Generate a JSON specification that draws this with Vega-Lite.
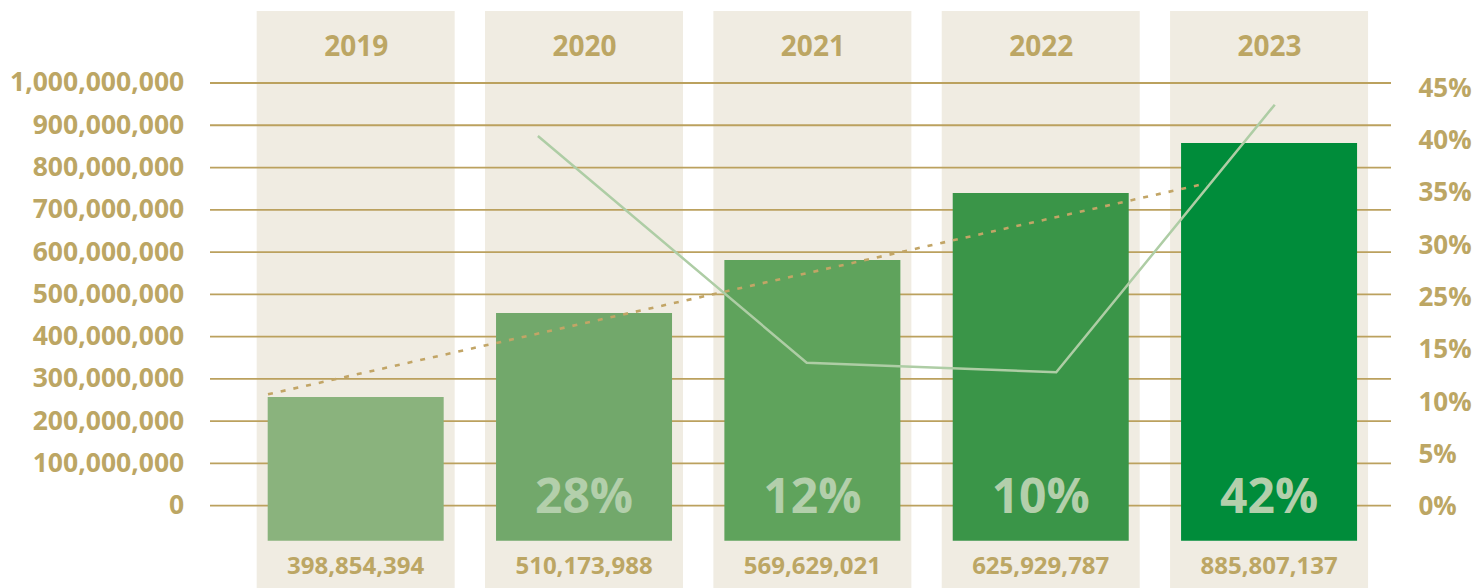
{
  "$schema": "https://vega.github.io/schema/vega-lite/v6.json",
  "autosize": {"type": "none"},
  "padding": {"left": 210, "top": 11, "right": 85, "bottom": 0},
  "width": 1181,
  "height": 577,
  "background": "#ffffff",
  "config": {"view": {"stroke": null}, "font": "Open Sans"},
  "datasets": {
    "years": [
      {"year": 2019, "value": 398854394, "bar": 257200000},
      {"year": 2020, "value": 510173988, "bar": 455900000, "growth": 0.28},
      {"year": 2021, "value": 569629021, "bar": 581300000, "growth": 0.12},
      {"year": 2022, "value": 625929787, "bar": 739800000, "growth": 0.10},
      {"year": 2023, "value": 885807137, "bar": 858100000, "growth": 0.42}
    ],
    "grid": [
      {"v": 0}, {"v": 100000000}, {"v": 200000000}, {"v": 300000000}, {"v": 400000000},
      {"v": 500000000}, {"v": 600000000}, {"v": 700000000}, {"v": 800000000}, {"v": 900000000}, {"v": 1000000000}
    ],
    "growthLine": [
      {"x": 2019.798, "level": 874600000, "growth": 0.28},
      {"x": 2020.975, "level": 338300000, "growth": 0.12},
      {"x": 2022.068, "level": 315600000, "growth": 0.10},
      {"x": 2023.025, "level": 948700000, "growth": 0.42}
    ],
    "trend": [
      {"x": 2018.616, "level": 263500000},
      {"x": 2022.727, "level": 762700000}
    ],
    "pctAxis": [
      {"label": "45%"}, {"label": "40%"}, {"label": "35%"}, {"label": "30%"}, {"label": "25%"},
      {"label": "15%"}, {"label": "10%"}, {"label": "5%"}, {"label": "0%"}
    ]
  },
  "layer": [
    {
      "layer": [
        {
          "data": {"name": "years"},
          "mark": {"type": "bar", "width": 198, "color": "#f0ece2", "orient": "vertical"},
          "encoding": {
            "x": {
              "field": "year", "type": "quantitative", "title": null,
              "scale": {"domain": [2018.362, 2023.534], "nice": false, "zero": false, "padding": 0},
              "axis": {
                "orient": "top", "values": [2019, 2020, 2021, 2022, 2023], "format": "d",
                "domain": false, "ticks": false, "grid": false, "labelFlush": false,
                "labelPadding": -36, "labelBaseline": "middle", "zindex": 1,
                "labelFont": "Open Sans", "labelFontSize": 28, "labelFontWeight": "bold",
                "labelColor": "#bca664"
              }
            },
            "y": {"datum": 1170300000, "type": "quantitative", "title": null,
              "scale": {"domain": [-194700000, 1170300000], "nice": false, "zero": false, "padding": 0}},
            "y2": {"datum": -194700000}
          }
        },
        {
          "data": {"name": "grid"},
          "mark": {"type": "rule", "color": "#bba15e", "strokeWidth": 1.8},
          "encoding": {
            "y": {
              "field": "v", "type": "quantitative", "title": null,
              "axis": {
                "orient": "left",
                "values": [0, 100000000, 200000000, 300000000, 400000000, 500000000, 600000000, 700000000, 800000000, 900000000, 1000000000],
                "format": ",d", "domain": false, "ticks": false, "grid": false,
                "labelPadding": 26.3, "labelFont": "Open Sans", "labelFontSize": 26.5,
                "labelFontWeight": "bold", "labelColor": "#bca664"
              }
            }
          }
        },
        {
          "data": {"name": "years"},
          "mark": {"type": "bar", "width": 176, "orient": "vertical"},
          "encoding": {
            "x": {"field": "year", "type": "quantitative", "title": null},
            "y": {"field": "bar", "type": "quantitative", "title": null},
            "y2": {"datum": -82800000},
            "color": {
              "field": "year", "type": "ordinal", "legend": null,
              "scale": {"domain": [2019, 2020, 2021, 2022, 2023], "range": ["#8ab37d", "#72a86b", "#5fa35c", "#3a9548", "#008c3a"]}
            }
          }
        },
        {
          "data": {"name": "trend"},
          "mark": {"type": "line", "color": "#c2a566", "strokeWidth": 2.6, "strokeDash": [5, 8]},
          "encoding": {
            "x": {"field": "x", "type": "quantitative", "title": null},
            "y": {"field": "level", "type": "quantitative", "title": null}
          }
        },
        {
          "data": {"name": "growthLine"},
          "mark": {"type": "line", "color": "#aecda5", "strokeWidth": 2.5},
          "encoding": {
            "x": {"field": "x", "type": "quantitative", "title": null},
            "y": {"field": "level", "type": "quantitative", "title": null}
          }
        },
        {
          "data": {"name": "years"},
          "transform": [{"filter": "datum.growth != null"}],
          "mark": {"type": "text", "font": "Open Sans", "fontWeight": "bold", "fontSize": 48, "color": "#b3cfab", "baseline": "middle", "align": "center", "dy": -42},
          "encoding": {
            "x": {"field": "year", "type": "quantitative", "title": null},
            "y": {"datum": -82800000, "type": "quantitative"},
            "text": {"field": "growth", "type": "quantitative", "format": ".0%"}
          }
        },
        {
          "data": {"name": "years"},
          "mark": {"type": "text", "font": "Open Sans", "fontWeight": "bold", "fontSize": 24, "color": "#bca664", "baseline": "middle", "align": "center", "dy": 26.3},
          "encoding": {
            "x": {"field": "year", "type": "quantitative", "title": null},
            "y": {"datum": -82800000, "type": "quantitative"},
            "text": {"field": "value", "type": "quantitative", "format": ",d"}
          }
        }
      ]
    },
    {
      "data": {"name": "pctAxis"},
      "mark": {"type": "rule", "strokeOpacity": 0},
      "encoding": {
        "y": {
          "field": "label", "type": "ordinal", "title": null,
          "scale": {"type": "point", "domain": [" ", "45%", "40%", "35%", "30%", "25%", "15%", "10%", "5%", "0%", "  "], "padding": 0.5122, "align": 0.46, "round": false},
          "axis": {
            "orient": "right", "domain": false, "ticks": false, "grid": false,
            "labelPadding": 27, "labelFont": "Open Sans", "labelFontSize": 26,
            "labelFontWeight": "bold", "labelColor": "#bca664", "labelAngle": 0
          }
        }
      }
    }
  ],
  "resolve": {"scale": {"y": "independent"}, "axis": {"y": "independent"}}
}
